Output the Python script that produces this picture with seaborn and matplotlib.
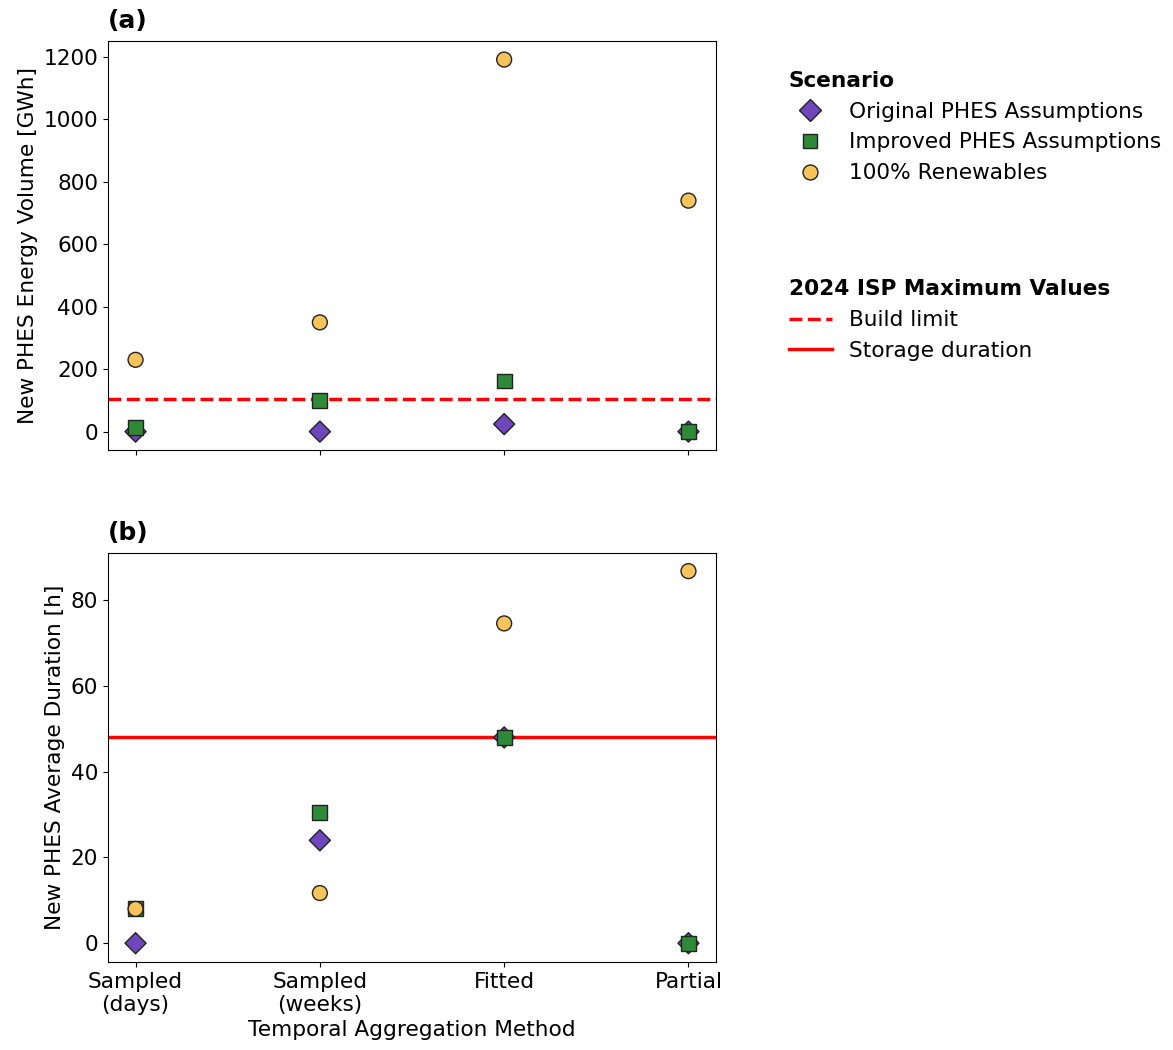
import numpy as np
import matplotlib
matplotlib.use("Agg")
import matplotlib.pyplot as plt
from matplotlib.lines import Line2D
import seaborn as sns
import pandas as pd

methods = ["Sampled\n(days)", "Sampled\n(weeks)", "Fitted", "Partial"]
scenarios = ["Original PHES Assumptions", "Improved PHES Assumptions", "100% Renewables"]

# new PHES energy volume [GWh]
volume_original = [0, 0, 24, 0]
volume_improved = [12, 100, 162, 0]
volume_renew = [230, 350, 1192, 740]

# new PHES average duration [h]
duration_original = [0, 24, 48, 0]
duration_improved = [8, 30.5, 48, 0]
duration_renew = [8, 11.7, 74.6, 86.8]

build_limit = 106
storage_duration = 48

colors = ["#7046bd", "#2f8a38", "#f6c45b"]
markers = ["D", "s", "o"]

rows = []
for scen, vol, dur in zip(scenarios,
                          [volume_original, volume_improved, volume_renew],
                          [duration_original, duration_improved, duration_renew]):
    for m, v, d in zip(methods, vol, dur):
        rows.append({"Method": m, "Scenario": scen, "Volume": v, "Duration": d})
df = pd.DataFrame(rows)

plt.rcParams["font.size"] = 15.6
fig, (ax1, ax2) = plt.subplots(2, 1, figsize=(11.73, 10.5), dpi=100, sharex=True)
fig.subplots_adjust(left=0.092, right=0.6105, top=0.961, bottom=0.084, hspace=0.25)

kw = dict(x="Method", hue="Scenario", style="Scenario", hue_order=scenarios,
          style_order=scenarios, palette=colors, markers=markers,
          s=115, edgecolor="#222222", linewidth=1, zorder=3)

sns.scatterplot(data=df, y="Volume", ax=ax1, **kw)
sns.scatterplot(data=df, y="Duration", ax=ax2, legend=False, **kw)

ax1.axhline(build_limit, color="red", ls="--", lw=2.5, zorder=2)
ax2.axhline(storage_duration, color="red", ls="-", lw=2.5, zorder=2)

ax1.set_ylabel("New PHES Energy Volume [GWh]")
ax2.set_ylabel("New PHES Average Duration [h]")
ax1.set_xlabel("")
ax2.set_xlabel("Temporal Aggregation Method")
ax1.set_title("(a)", loc="left", fontweight="bold", fontsize=18, pad=9)
ax2.set_title("(b)", loc="left", fontweight="bold", fontsize=18, pad=9)
ax1.set_yticks([0, 200, 400, 600, 800, 1000, 1200])
ax2.set_yticks([0, 20, 40, 60, 80])

handles, labels = ax1.get_legend_handles_labels()
ax1.get_legend().remove()
leg1 = ax1.legend(handles, labels, title="Scenario", loc="upper left",
                  bbox_to_anchor=(1.087, 0.975), frameon=False, alignment="left",
                  title_fontproperties={"weight": "bold", "size": 15.6})
ax1.add_artist(leg1)
line_handles = [Line2D([], [], color="red", ls="--", lw=2.5),
                Line2D([], [], color="red", ls="-", lw=2.5)]
ax1.legend(line_handles, ["Build limit", "Storage duration"],
           title="2024 ISP Maximum Values", loc="upper left",
           bbox_to_anchor=(1.087, 0.465), frameon=False, alignment="left",
           title_fontproperties={"weight": "bold", "size": 15.6})

plt.savefig("out.png", dpi=100)
